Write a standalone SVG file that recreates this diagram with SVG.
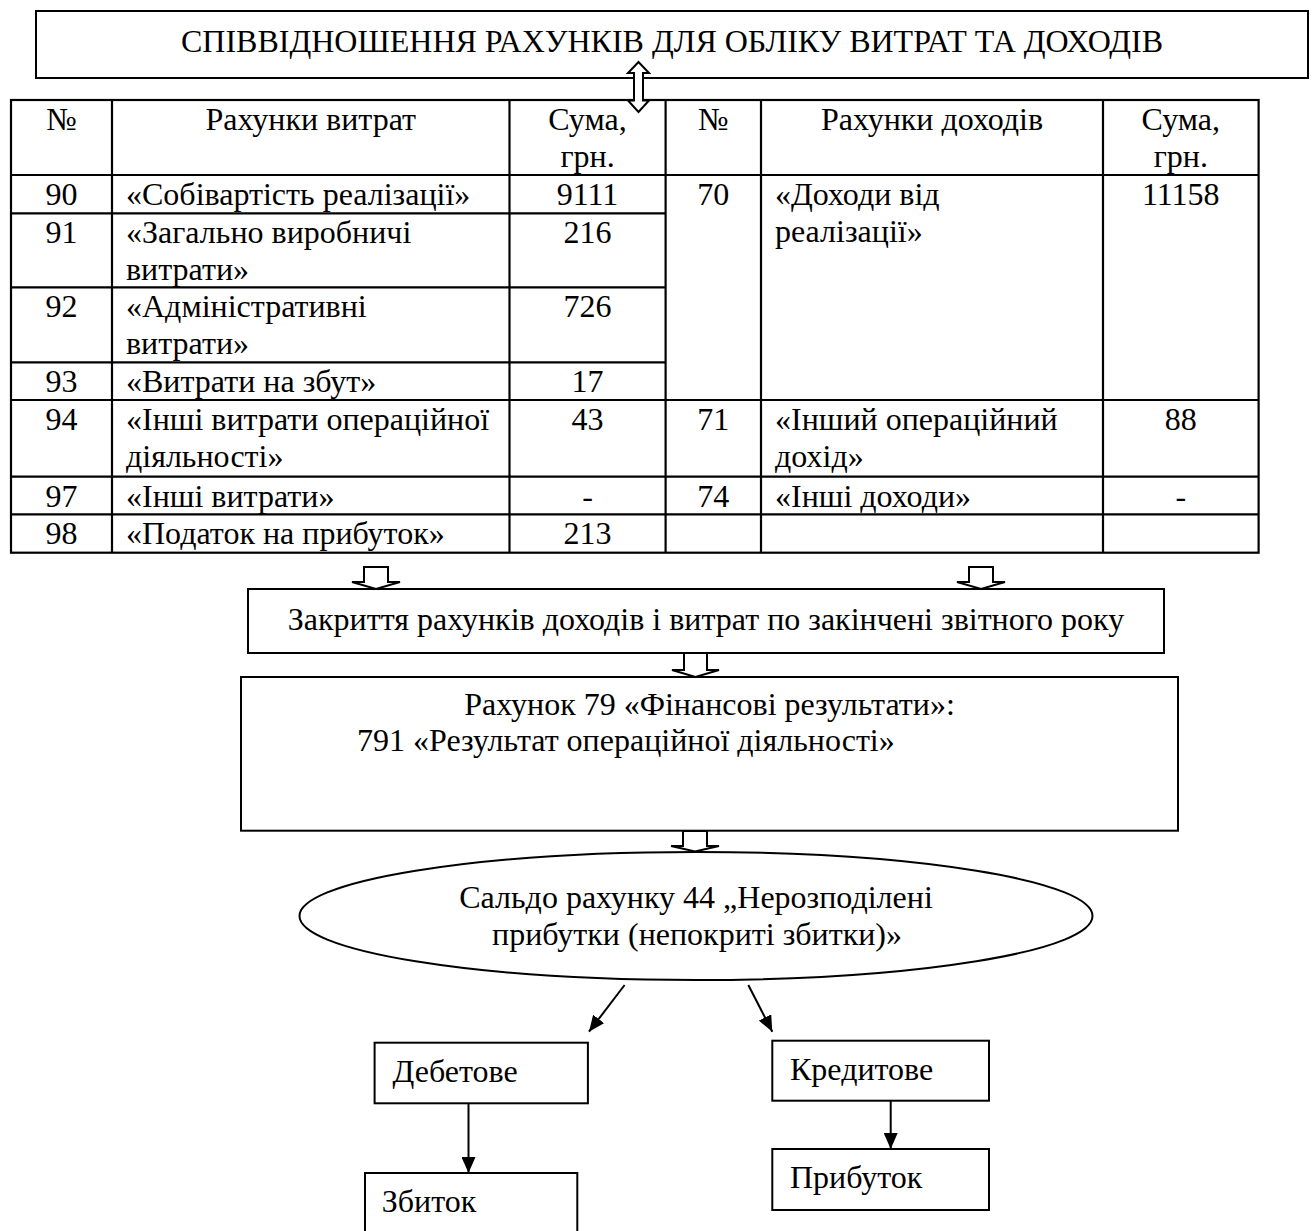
<svg xmlns="http://www.w3.org/2000/svg" width="1315" height="1231" viewBox="0 0 1315 1231">
<defs>
<style>
text{font-family:"Liberation Serif","Times New Roman",serif;font-size:32px;fill:#000}
.m{text-anchor:middle}
.box{fill:#fff;stroke:#000;stroke-width:2}
.tl{stroke:#000;stroke-width:2.2;fill:none}
.blk{fill:#fff;stroke:#000;stroke-width:2;stroke-linejoin:miter}
.ln{stroke:#000;stroke-width:2;fill:none}
</style>
<marker id="ah" markerUnits="userSpaceOnUse" markerWidth="16" markerHeight="14" refX="16" refY="7" orient="auto">
<path d="M0,0 L16,7 L0,14 z" fill="#000"/>
</marker>
</defs>
<rect width="1315" height="1231" fill="#fff"/>

<g id="title">
<rect class="box" x="36" y="11" width="1272" height="67"/>
<text class="m" x="672" y="52">СПІВВІДНОШЕННЯ РАХУНКІВ ДЛЯ ОБЛІКУ ВИТРАТ ТА ДОХОДІВ</text>
</g>

<g id="table">
<rect class="tl" x="11" y="100" width="1247.6" height="452.7"/>
<line class="tl" x1="112" y1="100" x2="112" y2="552.7"/>
<line class="tl" x1="509.5" y1="100" x2="509.5" y2="552.7"/>
<line class="tl" x1="665.6" y1="100" x2="665.6" y2="552.7"/>
<line class="tl" x1="761" y1="100" x2="761" y2="552.7"/>
<line class="tl" x1="1103" y1="100" x2="1103" y2="552.7"/>
<line class="tl" x1="11" y1="175" x2="1258.6" y2="175"/>
<line class="tl" x1="11" y1="213.3" x2="665.6" y2="213.3"/>
<line class="tl" x1="11" y1="287.3" x2="665.6" y2="287.3"/>
<line class="tl" x1="11" y1="362.3" x2="665.6" y2="362.3"/>
<line class="tl" x1="11" y1="400" x2="1258.6" y2="400"/>
<line class="tl" x1="11" y1="476.7" x2="1258.6" y2="476.7"/>
<line class="tl" x1="11" y1="514.3" x2="1258.6" y2="514.3"/>

<text class="m" x="61.5" y="130">№</text>
<text class="m" x="310.8" y="130">Рахунки витрат</text>
<text class="m" x="587.5" y="130">Сума,</text>
<text class="m" x="587.5" y="167">грн.</text>
<text class="m" x="713.3" y="130">№</text>
<text class="m" x="932" y="130">Рахунки доходів</text>
<text class="m" x="1180.8" y="130">Сума,</text>
<text class="m" x="1180.8" y="167">грн.</text>

<text class="m" x="61.5" y="205">90</text>
<text x="126" y="205">«Собівартість реалізації»</text>
<text class="m" x="587.5" y="205">9111</text>

<text class="m" x="61.5" y="243">91</text>
<text x="126" y="243">«Загально виробничі</text>
<text x="126" y="280">витрати»</text>
<text class="m" x="587.5" y="243">216</text>

<text class="m" x="61.5" y="317">92</text>
<text x="126" y="317">«Адміністративні</text>
<text x="126" y="354">витрати»</text>
<text class="m" x="587.5" y="317">726</text>

<text class="m" x="61.5" y="392">93</text>
<text x="126" y="392">«Витрати на збут»</text>
<text class="m" x="587.5" y="392">17</text>

<text class="m" x="61.5" y="430">94</text>
<text x="126" y="430">«Інші витрати операційної</text>
<text x="126" y="467">діяльності»</text>
<text class="m" x="587.5" y="430">43</text>

<text class="m" x="61.5" y="506.5">97</text>
<text x="126" y="506.5">«Інші витрати»</text>
<text class="m" x="587.5" y="506.5">-</text>

<text class="m" x="61.5" y="544">98</text>
<text x="126" y="544">«Податок на прибуток»</text>
<text class="m" x="587.5" y="544">213</text>

<text class="m" x="713.3" y="205">70</text>
<text x="775" y="205">«Доходи від</text>
<text x="775" y="242">реалізації»</text>
<text class="m" x="1180.8" y="205">11158</text>

<text class="m" x="713.3" y="430">71</text>
<text x="775" y="430">«Інший операційний</text>
<text x="775" y="467">дохід»</text>
<text class="m" x="1180.8" y="430">88</text>

<text class="m" x="713.3" y="506.5">74</text>
<text x="775" y="506.5">«Інші доходи»</text>
<text class="m" x="1180.8" y="506.5">-</text>
</g>

<g id="closing">
<rect class="box" x="248" y="589" width="916" height="64"/>
<text class="m" x="706" y="630">Закриття рахунків доходів і витрат по закінчені звітного року</text>
</g>

<g id="account79">
<rect class="box" x="241" y="677" width="937" height="153.7"/>
<text class="m" x="709.5" y="715">Рахунок 79 «Фінансові результати»:</text>
<text x="357" y="751">791 «Результат операційної діяльності»</text>
</g>

<g id="saldo44">
<ellipse cx="696" cy="916" rx="396.5" ry="64" fill="#fff" stroke="#000" stroke-width="2"/>
<text class="m" x="696" y="908">Сальдо рахунку 44 „Нерозподілені</text>
<text class="m" x="697" y="945">прибутки (непокриті збитки)»</text>
</g>

<g id="debit">
<rect class="box" x="374.6" y="1042.7" width="213.3" height="60.6" stroke-width="1.6"/>
<text x="392.5" y="1081.7">Дебетове</text>
</g>

<g id="credit">
<rect class="box" x="772.3" y="1040.7" width="216.7" height="60" stroke-width="1.6"/>
<text x="790" y="1080">Кредитове</text>
</g>

<g id="loss">
<rect class="box" x="365" y="1173" width="212.3" height="70" stroke-width="1.6"/>
<text x="381.7" y="1211.7">Збиток</text>
</g>

<g id="profit">
<rect class="box" x="772.3" y="1149" width="216.7" height="61" stroke-width="1.6"/>
<text x="790" y="1188">Прибуток</text>
</g>

<g id="connectors">
<path class="blk" d="M634,73 L628,73 L638.5,62 L649,73 L643,73 L643,100.5 L649,100.5 L638.5,112 L628,100.5 L634,100.5 Z"/>
<path class="blk" d="M364,567 L388,567 L388,582 L400,582 L376,589 L352,582 L364,582 Z"/>
<path class="blk" d="M969,567 L993,567 L993,582 L1005,582 L981,589 L957,582 L969,582 Z"/>
<path class="blk" d="M684,653 L707,653 L707,670 L719,670 L695.5,677 L672,670 L684,670 Z"/>
<path class="blk" d="M683,831 L707,831 L707,846 L719,846 L695,851.5 L671,846 L683,846 Z"/>
<line class="ln" x1="624.6" y1="985" x2="589" y2="1031.7" marker-end="url(#ah)"/>
<line class="ln" x1="748.3" y1="985" x2="772.3" y2="1031.7" marker-end="url(#ah)"/>
<line class="ln" x1="468.5" y1="1103.3" x2="468.5" y2="1173" marker-end="url(#ah)"/>
<line class="ln" x1="890.7" y1="1100.7" x2="890.7" y2="1149" marker-end="url(#ah)"/>
</g>
</svg>
